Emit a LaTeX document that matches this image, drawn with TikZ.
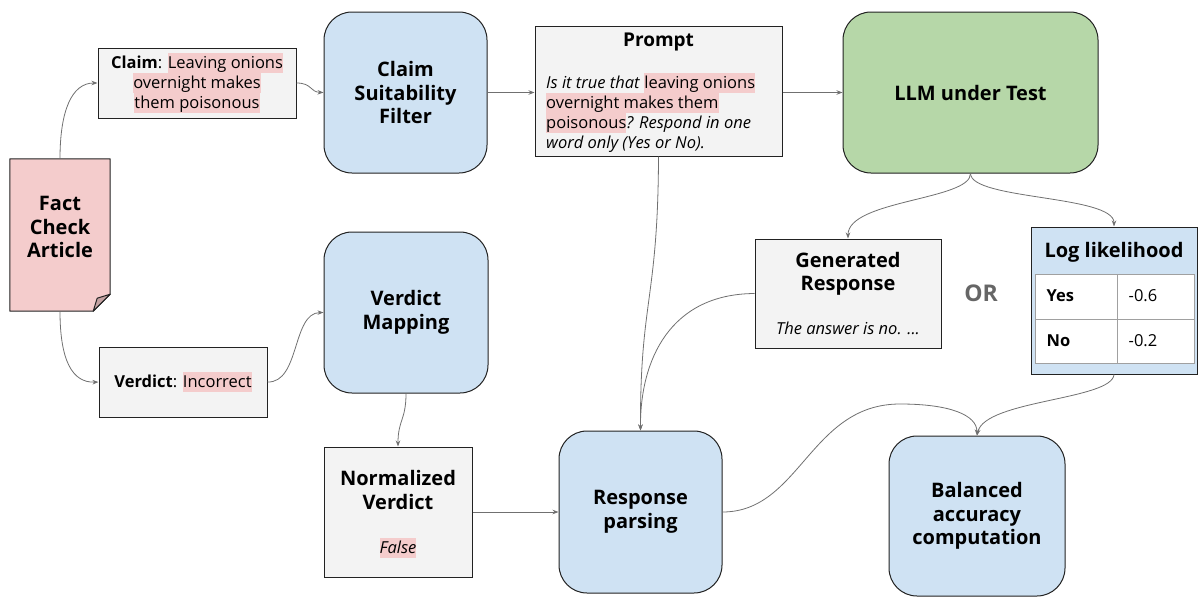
\documentclass[tikz,border=0pt]{standalone}
\usepackage{fontspec}
\setmainfont{Open Sans}
\usetikzlibrary{arrows.meta}
\definecolor{pinkc}{HTML}{F4CCCC}
\definecolor{bluec}{HTML}{CFE2F3}
\definecolor{greenc}{HTML}{B6D7A8}
\definecolor{grayc}{HTML}{F3F3F3}
\definecolor{arrowc}{HTML}{707070}
\definecolor{foldc}{HTML}{C4A2A2}
\definecolor{orc}{HTML}{666666}
\definecolor{cellc}{HTML}{A0A0A0}
\definecolor{edgec}{HTML}{222222}
\newcommand{\sr}{\rule[-5pt]{0pt}{20pt}}
\newcommand{\hlt}[1]{{\setlength{\fboxsep}{0pt}\colorbox{pinkc}{\sr#1}}}
\newcommand{\bodyfont}{\fontsize{16.5}{20}\selectfont}
\newcommand{\titlefont}{\fontsize{20}{23.5}\selectfont\bfseries}
\begin{document}
\begin{tikzpicture}[x=1pt,y=-1pt,
  box/.style={draw=edgec, line width=1pt, inner sep=0pt, align=center},
  rbox/.style={box, rounded corners=28pt, fill=bluec, font=\titlefont},
  gbox/.style={box, fill=grayc},
  txt/.style={inner sep=0pt, align=center},
  conn/.style={draw=arrowc, line width=0.8pt, -{Stealth[length=6pt,width=4.5pt]}},
  cell/.style={draw=cellc, line width=1pt, fill=white, inner sep=0pt}]
\useasboundingbox (0,0) rectangle (1198,597);

% Fact check article (document shape)
\node[inner sep=0pt, minimum width=100pt, minimum height=152pt] (fact) at (60,235) {};
\draw[draw=edgec, line width=1pt, fill=pinkc, line join=round]
  (fact.north west) -- (fact.north east) -- ([yshift=17pt]fact.south east)
  -- ([xshift=-17pt]fact.south east) -- (fact.south west) -- cycle;
\draw[draw=edgec, line width=1pt, fill=foldc, line join=round]
  ([yshift=17pt]fact.south east) -- ([xshift=-17pt]fact.south east)
  -- ([xshift=-13pt,yshift=13pt]fact.south east) -- cycle;
\node[txt, font=\titlefont] (facttxt) at (60,227) {Fact\\Check\\Article};

% Claim and verdict boxes
\node[gbox, minimum width=198pt, minimum height=70pt, font=\bodyfont] (claim) at (197,83)
  {\textbf{Claim}: \hlt{Leaving onions}\\\hlt{overnight makes}\\\hlt{them poisonous}};
\node[gbox, minimum width=168pt, minimum height=70pt, font=\bodyfont] (verdict) at (183,382)
  {\sr\textbf{Verdict}: \hlt{Incorrect}};

% Blue process boxes
\node[rbox, minimum width=163pt, minimum height=161pt] (csf) at (405.5,92.5) {Claim\\Suitability\\Filter};
\node[rbox, minimum width=164pt, minimum height=161pt] (vm) at (406,312.5) {Verdict\\Mapping};
\node[rbox, minimum width=163pt, minimum height=162pt] (rp) at (640.5,512) {Response\\parsing};
\node[rbox, minimum width=176pt, minimum height=160pt] (bac) at (977,516) {Balanced\\accuracy\\computation};
\node[rbox, fill=greenc, minimum width=255pt, minimum height=161pt] (llm) at (970.5,92.5) {LLM under Test};

% Prompt
\node[gbox, minimum width=247pt, minimum height=130pt] (prompt) at (658.5,91) {};
\node[txt, font=\fontsize{19}{22}\selectfont\bfseries] (ptitle) at (658.5,42) {Prompt};
\node[txt, align=left, anchor=north west, font=\bodyfont] (pbody) at (546,73)
  {\sr\textit{Is it true that }\hlt{leaving onions}\\
   \hlt{overnight makes them}\\
   \hlt{poisonous}\textit{? Respond in one}\\
   \sr\textit{word only (Yes or No).}};

% Generated response
\node[gbox, minimum width=186pt, minimum height=109pt] (gr) at (848,293.5) {};
\node[txt, font=\titlefont] (grtitle) at (848,274) {Generated\\Response};
\node[txt, font=\bodyfont\itshape] (grbody) at (848,328) {The answer is no. ...};

% OR
\node[txt, font=\fontsize{23}{26}\selectfont\bfseries, text=orc] (or) at (981,293) {OR};

% Log likelihood table
\node[box, fill=bluec, minimum width=166pt, minimum height=147pt] (ll) at (1114,300.5) {};
\node[txt, font=\titlefont] (lltitle) at (1114,252) {Log likelihood};
\node[cell, minimum width=82pt, minimum height=45pt] (c11) at (1076,296.5) {};
\node[cell, minimum width=77pt, minimum height=45pt] (c12) at (1155.5,296.5) {};
\node[cell, minimum width=82pt, minimum height=44pt] (c21) at (1076,341) {};
\node[cell, minimum width=77pt, minimum height=44pt] (c22) at (1155.5,341) {};
\node[txt, anchor=west, font=\bodyfont\bfseries] (yes) at ([xshift=12pt]c11.west) {\sr Yes};
\node[txt, anchor=west, font=\bodyfont] (yesv) at ([xshift=12pt]c12.west) {\sr -0.6};
\node[txt, anchor=west, font=\bodyfont\bfseries] (no) at ([xshift=12pt]c21.west) {\sr No};
\node[txt, anchor=west, font=\bodyfont] (nov) at ([xshift=12pt]c22.west) {\sr -0.2};

% Normalized verdict
\node[gbox, minimum width=148pt, minimum height=130pt] (nv) at (398,512) {};
\node[txt, font=\titlefont] (nvtitle) at (398,490) {Normalized\\Verdict};
\node[txt, font=\bodyfont\itshape] (nvbody) at (398,548) {\hlt{False}};

% Connectors
\draw[conn] (fact.north) .. controls (60,110) and (72,83) .. (claim.west);
\draw[conn] (fact.south) .. controls (60,360) and (72,383) .. (verdict.west);
\draw[conn] (claim.east) .. controls (312,83) and (310,92) .. (csf.west);
\draw[conn] (verdict.east) .. controls (300,383) and (292,313) .. (vm.west);
\draw[conn] (csf.east) -- (prompt.west |- csf.east);
\draw[conn] (prompt.east |- llm.west) -- (llm.west);
\draw[conn] (llm.south) .. controls (971,200) and (848,200) .. (gr.north);
\draw[conn] (llm.south) .. controls (971,200) and (1114,195) .. (ll.north);
\draw[conn] (vm.south) .. controls (406,420) and (398,420) .. (nv.north);
\draw[conn] (prompt.south) .. controls (658,300) and (640,300) .. (rp.north);
\draw[conn] (gr.west) .. controls (670,294) and (640,360) .. (rp.north);
\draw[conn] (nv.east) -- (rp.west);
\draw[conn] (rp.east) .. controls (800,512) and (810,404) .. (900,404)
  .. controls (950,404) and (977,415) .. (bac.north);
\draw[conn] (ll.south) .. controls (1112,400) and (985,400) .. (bac.north);
\end{tikzpicture}
\end{document}
